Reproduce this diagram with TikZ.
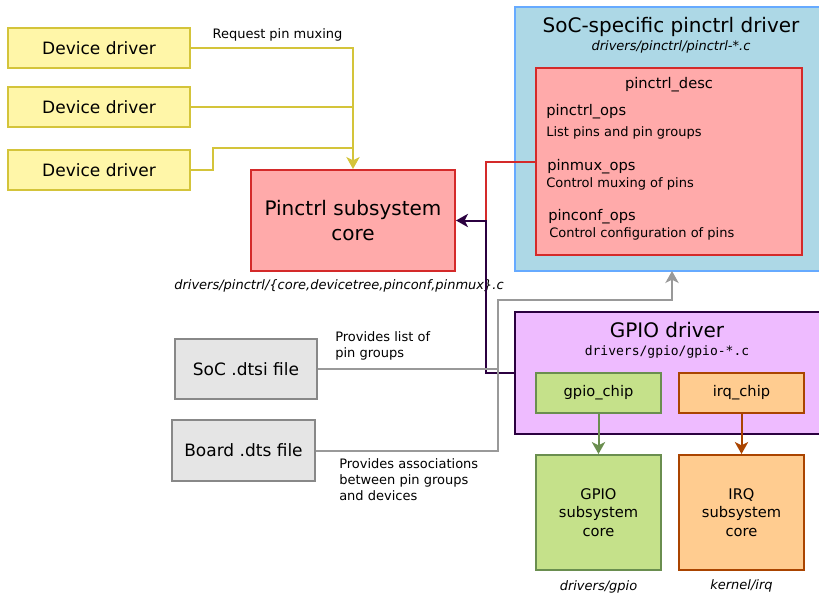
\documentclass[tikz,border=0pt]{standalone}
\usepackage{fontspec}
\setmainfont{DejaVu Sans}
\setmonofont{DejaVu Sans Mono}
\usetikzlibrary{arrows.meta,calc}
\definecolor{yelfill}{RGB}{255,246,168}
\definecolor{yeldraw}{RGB}{212,196,58}
\definecolor{redfill}{RGB}{255,170,170}
\definecolor{reddraw}{RGB}{212,42,42}
\definecolor{bluefill}{RGB}{173,216,230}
\definecolor{bluedraw}{RGB}{102,170,255}
\definecolor{violfill}{RGB}{238,187,255}
\definecolor{violdraw}{RGB}{43,0,64}
\definecolor{grnfill}{RGB}{197,225,138}
\definecolor{grndraw}{RGB}{106,142,79}
\definecolor{orgfill}{RGB}{255,204,144}
\definecolor{orgdraw}{RGB}{170,68,0}
\definecolor{gryfill}{RGB}{229,229,229}
\definecolor{grydraw}{RGB}{136,136,136}
\definecolor{gryline}{RGB}{153,153,153}
\newcommand\fzS{\fontsize{9.75}{12}\selectfont}
\newcommand\fzM{\fontsize{11}{13.7}\selectfont}
\newcommand\fzL{\fontsize{12.75}{15}\selectfont}
\newcommand\fzXL{\fontsize{15}{18.75}\selectfont}
\tikzset{
  box/.style={draw, line width=1.5pt, inner sep=0pt, align=center},
  sz/.style 2 args={minimum width=#1*0.75pt, minimum height=#2*0.75pt},
  txt/.style={inner sep=0pt},
  conn/.style={line width=1.5pt},
  tip/.style={-{Stealth[length=9pt,width=10pt,inset=2.5pt]}},
}
\begin{document}
\begin{tikzpicture}[x=0.75pt,y=-0.75pt]
\clip (0,0) rectangle (819,594);
\fill[white] (0,0) rectangle (819,594);

% device drivers
\node[box, sz={182}{40}, fill=yelfill, draw=yeldraw, font=\fzL] (dd1) at (99,48) {Device driver};
\node[box, sz={182}{40}, fill=yelfill, draw=yeldraw, font=\fzL] (dd2) at (99,107) {Device driver};
\node[box, sz={182}{40}, fill=yelfill, draw=yeldraw, font=\fzL] (dd3) at (99,170) {Device driver};
\node[txt, font=\fzS] (req) at (277.5,35) {Request pin muxing};

% pinctrl core
\node[box, sz={204}{101}, fill=redfill, draw=reddraw, font=\fzXL] (core) at (353,220.5) {Pinctrl subsystem\\core};
\node[txt, font=\fzS\itshape] (corelbl) at (339,286) {drivers/pinctrl/\{core,devicetree,pinconf,pinmux\}.c};

% SoC-specific driver
\node[box, sz={307}{264}, fill=bluefill, draw=bluedraw] (soc) at (668.5,139) {};
\node[txt, font=\fzXL] (soct) at (671,27) {SoC-specific pinctrl driver};
\node[txt, font=\fzS\itshape] (socs) at (671,47) {drivers/pinctrl/pinctrl-*.c};
\node[box, sz={266}{187}, fill=redfill, draw=reddraw] (desc) at (669,161.5) {};
\node[txt, font=\fzM] (desct) at (669,85) {pinctrl\_desc};
\node[txt, font=\fzM, anchor=west] (ops1) at (546,112) {pinctrl\_ops};
\node[txt, font=\fzS, anchor=west] (ops1d) at (546,133) {List pins and pin groups};
\node[txt, font=\fzM, anchor=west] (ops2) at (547,167) {pinmux\_ops};
\node[txt, font=\fzS, anchor=west] (ops2d) at (546,184) {Control muxing of pins};
\node[txt, font=\fzM, anchor=west] (ops3) at (548,217) {pinconf\_ops};
\node[txt, font=\fzS, anchor=west] (ops3d) at (549,234) {Control configuration of pins};

% GPIO driver
\node[box, sz={307}{122}, fill=violfill, draw=violdraw] (gpio) at (668.5,373) {};
\node[txt, font=\fzXL] (gpiot) at (667,330) {GPIO driver};
\node[txt, font=\fzS\ttfamily] (gpios) at (667,352) {drivers/gpio/gpio-*.c};
\node[box, sz={125}{40}, fill=grnfill, draw=grndraw, font=\fzM] (gchip) at (598.5,393) {gpio\_chip};
\node[box, sz={125}{40}, fill=orgfill, draw=orgdraw, font=\fzM] (ichip) at (741.5,393) {irq\_chip};
\node[box, sz={125}{115}, fill=grnfill, draw=grndraw, font=\fzM] (gcore) at (598.5,512.5) {GPIO\\subsystem\\core};
\node[box, sz={125}{115}, fill=orgfill, draw=orgdraw, font=\fzM] (icore) at (741.5,512.5) {IRQ\\subsystem\\core};
\node[txt, font=\fzS\itshape] (glbl) at (598.5,587) {drivers/gpio};
\node[txt, font=\fzS\itshape] (ilbl) at (741.5,586) {kernel/irq};

% dts files
\node[box, sz={142}{60}, fill=gryfill, draw=grydraw, font=\fzL] (dtsi) at (246,369) {SoC .dtsi file};
\node[box, sz={143}{61}, fill=gryfill, draw=grydraw, font=\fzL] (dts) at (243.5,450.5) {Board .dts file};
\node[txt, font=\fzS, anchor=west, align=left] (plist) at (335,346) {Provides list of\\pin groups};
\node[txt, font=\fzS, anchor=west, align=left] (passoc) at (339,480) {Provides associations\\between pin groups\\and devices};

% coordinates
\coordinate (j3) at (353,148);
\coordinate (mj) at (486,220.5);
\coordinate (gj) at (498,300);
\coordinate (gt) at (672,271);

% yellow connectors
\draw[conn, yeldraw, tip] (dd1.east) -| (core.north);
\draw[conn, yeldraw] (dd2.east) -- (dd2.east -| core.north);
\draw[conn, yeldraw] (dd3.east) -- ++(22,0) |- (j3);

% red / purple connectors
\draw[conn, reddraw] (desc.west) -| (mj);
\draw[conn, violdraw, tip] (gpio.west) -| (mj) -- (core.east);

% gray connectors
\draw[conn, gryline] (dtsi.east) -- (dtsi.east -| gj);
\draw[conn, gryline, tip] (dts.east) -| (gj) -| (gt);

% gpio arrows
\draw[conn, grndraw, tip] (gchip.south) -- (gcore.north);
\draw[conn, orgdraw, tip] (ichip.south) -- (icore.north);
\end{tikzpicture}
\end{document}
